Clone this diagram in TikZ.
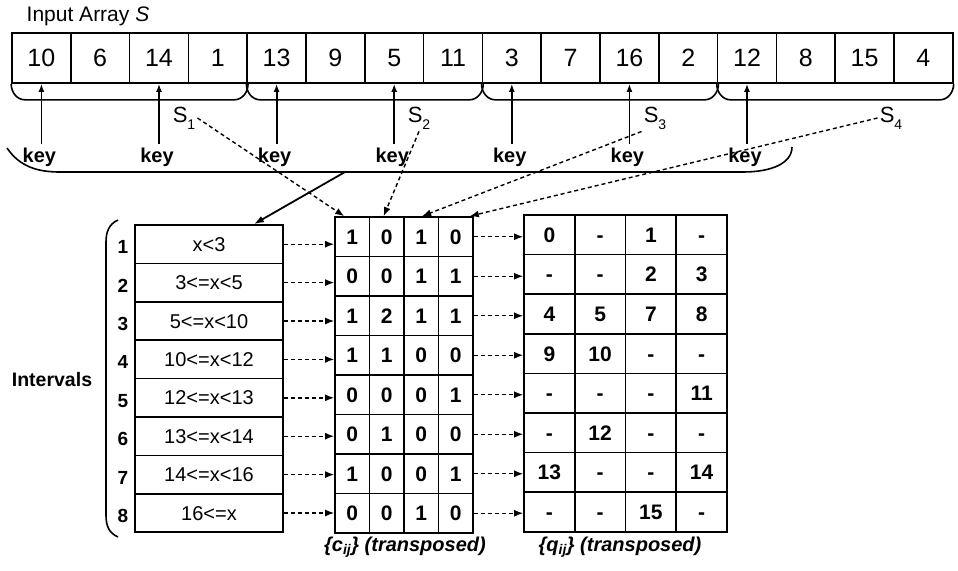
\documentclass[tikz,border=0pt]{standalone}
\usepackage{fontspec}
\setmainfont{Liberation Sans}
\usetikzlibrary{arrows.meta,calc}

\newcommand\fsz[1]{\fontsize{#1}{#1}\selectfont}
\newcommand\lowidx[1]{\raisebox{-0.32em}{\fsz{14}#1}}

\begin{document}
\begin{tikzpicture}[x=1pt,y=-1pt,
  box/.style={draw,line width=1.7pt,inner sep=0pt,text depth=0pt},
  incell/.style={box,minimum width=58.8pt,minimum height=50pt,font=\fsz{25},text height=17.9pt},
  ivcell/.style={box,minimum width=148pt,minimum height=38.4pt,font=\fsz{20},text height=14.3pt},
  ccell/.style={box,minimum width=34.5pt,minimum height=39.5pt,font=\bfseries\fsz{21},text height=15pt},
  qcell/.style={box,minimum width=50.75pt,minimum height=39.6pt,font=\bfseries\fsz{21},text height=15pt},
  keylbl/.style={font=\bfseries\fsz{20},inner xsep=0pt,inner ysep=3.5pt},
  slbl/.style={font=\fsz{22},inner sep=2pt},
  numlbl/.style={font=\bfseries\fsz{19},inner sep=0pt},
  caption/.style={font=\bfseries\itshape\fsz{20},inner sep=0pt},
  brk/.style={line width=1.6pt},
  keyarrow/.style={line width=1.8pt,-{Latex[length=8pt,width=6pt]}},
  sarr/.style={line width=1.8pt,-{Latex[length=10pt,width=7pt]}},
  darr/.style={line width=1.4pt,dash pattern=on 4pt off 3pt,-{Latex[length=9pt,width=7pt]}}
]
\useasboundingbox (0,0) rectangle (958,570);

% title
\node[font=\fsz{21},inner sep=0pt] (title) at (88,16) {Input Array \textit{S}};

% input array
\foreach \v [count=\i] in {10,6,14,1,13,9,5,11,3,7,16,2,12,8,15,4}
  \node[incell] (in\i) at ({12+58.8*(\i-0.5)},58) {\v};

% one bracket under each group of four cells
\foreach \g [evaluate=\g as \a using int(4*\g+1),
             evaluate=\g as \b using int(4*\g+4)] in {0,...,3}
  \draw[brk] (in\a.south west) to[out=-90,in=180] ++(14,16)
    -- ($(in\b.south east)+(-14,16)$) to[out=0,in=-90] (in\b.south east);

% subarray labels
\node[slbl] (s1) at (184,118) {S\lowidx{1}};
\node[slbl] (s2) at (419,118) {S\lowidx{2}};
\node[slbl] (s3) at (655,118) {S\lowidx{3}};
\node[slbl] (s4) at (891,118) {S\lowidx{4}};

% sampled keys
\foreach \c [count=\k] in {1,3,5,7,9,11,13} {
  \node[keylbl] (k\k) at ($(in\c.south)+(-2,73)$) {key};
  \draw[keyarrow] (k\k.north -| in\c.south) -- (in\c.south);
}

% bracket collecting the keys
\draw[brk] (7,148) .. controls (20,167) and (38,172) .. (60,172)
  -- (743,172) .. controls (772,172) and (792,163) .. (792,147);
\coordinate (kb) at (345,172);

% interval table
\foreach \t [count=\r] in {x<3,3<=x<5,5<=x<10,10<=x<12,12<=x<13,13<=x<14,14<=x<16,16<=x} {
  \node[ivcell] (iv\r) at (209,{225+38.4*(\r-0.5)}) {\t};
  \node[numlbl] (n\r) at (123,{228+38.4*(\r-0.5)}) {\r};
}
\draw[brk] (118,220) .. controls (109,224) and (106,232) .. (106,242)
  -- (106,515) .. controls (106,526) and (109,533) .. (118,537);
\node[font=\bfseries\fsz{19.5},inner sep=0pt] (ivlbl) at (52,380) {Intervals};

% counts c_ij
\foreach \row [count=\r] in {{1,0,1,0},{0,0,1,1},{1,2,1,1},{1,1,0,0},
                             {0,0,0,1},{0,1,0,0},{1,0,0,1},{0,0,1,0}}
  \foreach \v [count=\c] in \row
    \node[ccell] (c-\r-\c) at ({335+34.5*(\c-0.5)},{217+39.5*(\r-0.5)}) {\v};

% offsets q_ij
\foreach \row [count=\r] in {{0,-,1,-},{-,-,2,3},{4,5,7,8},{9,10,-,-},
                             {-,-,-,11},{-,12,-,-},{13,-,-,14},{-,-,15,-}}
  \foreach \v [count=\c] in \row
    \node[qcell] (q-\r-\c) at ({524+50.75*(\c-0.5)},{215+39.6*(\r-0.5)}) {\v};

% row connectors
\foreach \r in {1,...,8} {
  \draw[darr] (iv\r.east) -- (iv\r.east -| c-\r-1.west);
  \draw[darr] (c-\r-4.east) -- (c-\r-4.east -| q-\r-1.west);
}

% keys into the interval table, subarrays into the count columns
\draw[sarr] (kb) -- ($(iv1.north west)!0.8!(iv1.north east)$);
\draw[darr] (s1.east) -- ($(c-1-1.north west)+(10,0)$);
\draw[darr] (s2.south) -- ($(c-1-2.north west)+(15,0)$);
\draw[darr] (s3.south west) -- ($(c-1-3.north west)+(19,0)$);
\draw[darr] (s4.west) -- ($(c-1-4.north east)+(-4,0)$);

% captions
\node[caption] (ccap) at (405,547) {\{c\textsubscript{ij}\} (transposed)};
\node[caption] (qcap) at (620,547) {\{q\textsubscript{ij}\} (transposed)};
\end{tikzpicture}
\end{document}
